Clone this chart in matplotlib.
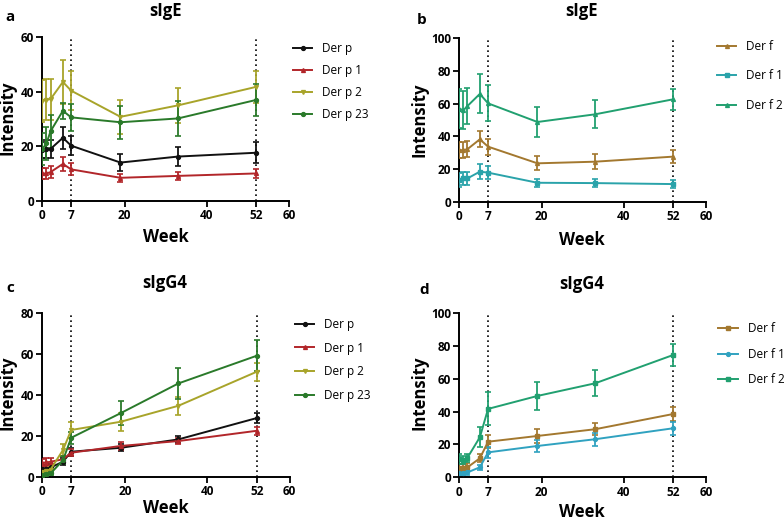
import matplotlib
matplotlib.use("Agg")
import matplotlib.pyplot as plt

plt.rcParams['font.family'] = ['Open Sans', 'DejaVu Sans']

weeks = [0, 1, 2, 5, 7, 19, 33, 52]

# panel a: sIgE, Der p
a_labels = ['Der p', 'Der p 1', 'Der p 2', 'Der p 23']
a_derp = [18.6, 19.0, 19.0, 23.1, 20.2, 14.0, 16.2, 17.6]
a_derp_err = [3.0, 3.2, 3.2, 4.0, 3.5, 3.0, 3.5, 3.8]
a_derp1 = [10.0, 10.0, 10.5, 13.5, 11.5, 8.4, 9.1, 10.0]
a_derp1_err = [2.0, 2.0, 2.2, 2.5, 2.2, 1.5, 1.6, 1.5]
a_derp2 = [36.6, 37.0, 37.3, 43.6, 40.4, 30.8, 35.0, 41.8]
a_derp2_err = [7.6, 7.5, 7.5, 8.0, 7.2, 6.2, 6.4, 5.8]
a_derp23 = [19.0, 21.0, 25.5, 33.0, 30.6, 28.8, 30.2, 37.0]
a_derp23_err = [6.0, 6.0, 6.0, 3.0, 5.0, 6.0, 6.5, 6.0]

# panel b: sIgE, Der f
b_labels = ['Der f', 'Der f 1', 'Der f 2']
b_derf = [31.6, 31.6, 32.2, 38.2, 33.7, 23.5, 24.5, 27.6]
b_derf_err = [5.0, 5.0, 5.0, 5.0, 4.8, 4.3, 4.5, 3.8]
b_derf1 = [13.3, 14.3, 14.3, 18.4, 17.8, 11.6, 11.4, 10.8]
b_derf1_err = [4.0, 4.0, 4.0, 4.5, 4.0, 2.5, 2.5, 2.5]
b_derf2 = [57.0, 56.0, 58.6, 66.0, 60.2, 48.8, 53.5, 62.7]
b_derf2_err = [12.0, 11.5, 11.0, 12.0, 11.0, 9.0, 8.5, 6.5]

# panel c: sIgG4, Der p
c_derp = [4.0, 4.0, 4.5, 7.3, 12.2, 14.1, 18.2, 28.6]
c_derp_err = [1.5, 1.5, 1.5, 1.8, 2.0, 1.8, 1.8, 2.5]
c_derp1 = [6.8, 7.0, 7.3, 8.5, 11.7, 15.0, 17.4, 22.4]
c_derp1_err = [2.0, 2.0, 2.0, 1.8, 1.8, 1.8, 1.5, 2.0]
c_derp2 = [2.5, 3.0, 3.5, 13.0, 22.8, 26.8, 34.6, 51.2]
c_derp2_err = [1.0, 1.0, 1.0, 3.0, 4.0, 4.5, 4.5, 4.5]
c_derp23 = [0.8, 1.1, 1.6, 8.0, 19.0, 31.0, 45.5, 59.0]
c_derp23_err = [0.8, 0.8, 0.8, 2.0, 3.0, 6.0, 7.5, 7.5]

# panel d: sIgG4, Der f
d_derf = [5.5, 5.5, 6.1, 11.6, 21.7, 25.2, 29.3, 38.6]
d_derf_err = [2.5, 2.5, 2.5, 2.5, 4.0, 4.0, 3.5, 4.0]
d_derf1 = [2.8, 2.8, 3.0, 6.1, 15.2, 19.1, 23.2, 29.9]
d_derf1_err = [1.5, 1.5, 1.5, 1.5, 3.5, 3.5, 4.0, 4.0]
d_derf2 = [11.0, 10.6, 12.0, 24.4, 41.7, 49.6, 57.3, 74.6]
d_derf2_err = [3.0, 2.5, 2.5, 6.0, 10.0, 8.5, 8.0, 6.5]

x_ticks = [0, 7, 20, 40, 52, 60]

black = '#111111'
red = '#b2262a'
olive = '#a8a42a'
dgreen = '#2a7a2a'
brown = '#a3782f'
teal = '#2aa3aa'
cyan = '#30a2c0'
green2 = '#21a070'

fig = plt.figure(figsize=(7.84, 5.23), dpi=100)


def panel(rect, series, ymax, ystep):
    ax = fig.add_axes(rect)
    for y, err, col, mk, lab in series:
        ax.errorbar(weeks, y, yerr=err, fmt='none', ecolor=col, elinewidth=1.3,
                    capsize=2.5, capthick=1.2, zorder=3)
        ax.plot(weeks, y, color=col, lw=1.4, marker=mk, ms=2.8, label=lab, zorder=4)
    for xv in (7, 52):
        ax.axvline(xv, color='k', ls=(0, (1, 2)), lw=1.2, zorder=2)
    ax.set_xlim(0, 60)
    ax.set_ylim(0, ymax)
    ax.set_xticks(x_ticks)
    ax.set_yticks(range(0, ymax + 1, ystep))
    for s in ('top', 'right'):
        ax.spines[s].set_visible(False)
    for s in ('left', 'bottom'):
        ax.spines[s].set_linewidth(1.4)
        ax.spines[s].set_clip_on(False)
    ax.tick_params(direction='out', length=4, width=1.3, pad=2, labelsize=8.5)
    for t in ax.get_xticklabels() + ax.get_yticklabels():
        t.set_fontweight('bold')
    return ax


ax_a = panel([0.054, 0.6163, 0.3147, 0.3124],
             [(a_derp, a_derp_err, black, 'o', a_labels[0]),
              (a_derp1, a_derp1_err, red, '^', a_labels[1]),
              (a_derp2, a_derp2_err, olive, 'v', a_labels[2]),
              (a_derp23, a_derp23_err, dgreen, 'o', a_labels[3])], 60, 20)
ax_b = panel([0.5858, 0.6143, 0.315, 0.3124],
             [(b_derf, b_derf_err, brown, '^', b_labels[0]),
              (b_derf1, b_derf1_err, teal, 's', b_labels[1]),
              (b_derf2, b_derf2_err, green2, '^', b_labels[2])], 100, 20)
ax_c = panel([0.054, 0.0885, 0.3155, 0.3136],
             [(c_derp, c_derp_err, black, 'o', a_labels[0]),
              (c_derp1, c_derp1_err, red, '^', a_labels[1]),
              (c_derp2, c_derp2_err, olive, 'v', a_labels[2]),
              (c_derp23, c_derp23_err, dgreen, 'o', a_labels[3])], 80, 20)
ax_d = panel([0.5858, 0.0874, 0.315, 0.3136],
             [(d_derf, d_derf_err, brown, 's', b_labels[0]),
              (d_derf1, d_derf1_err, cyan, 'o', b_labels[1]),
              (d_derf2, d_derf2_err, green2, 's', b_labels[2])], 100, 20)

legend_spots = [(ax_a, 0.3737, 0.919, 0.75), (ax_b, 0.9145, 0.924, 1.4),
                (ax_c, 0.376, 0.392, 0.9), (ax_d, 0.916, 0.3837, 1.05)]
for ax, lx, ly, sp in legend_spots:
    ax.legend(loc='upper left', bbox_to_anchor=(lx, ly), bbox_transform=fig.transFigure,
              frameon=False, borderpad=0, borderaxespad=0, handlelength=1.65,
              handletextpad=0.85, labelspacing=sp, fontsize=8.5)

W, H = 784, 523
def ftext(x, y, s, **kw):
    fig.text(x / W, 1 - y / H, s, ha='center', va='center', fontweight='bold', **kw)

ftext(165, 11, 'sIgE', fontsize=12)
ftext(582, 11, 'sIgE', fontsize=12)
ftext(165, 283, 'sIgG4', fontsize=12)
ftext(582, 284, 'sIgG4', fontsize=12)
ftext(10, 17, 'a', fontsize=11)
ftext(422, 20, 'b', fontsize=11)
ftext(10, 288, 'c', fontsize=11)
ftext(424, 290, 'd', fontsize=11)
ftext(165.7, 237, 'Week', fontsize=12)
ftext(582, 240, 'Week', fontsize=12)
ftext(165.7, 508, 'Week', fontsize=12)
ftext(582, 512, 'Week', fontsize=12)
ftext(8, 118, 'Intensity', fontsize=12, rotation=90)
ftext(419, 120, 'Intensity', fontsize=12, rotation=90)
ftext(8, 393, 'Intensity', fontsize=12, rotation=90)
ftext(419, 393, 'Intensity', fontsize=12, rotation=90)

fig.savefig('out.png', dpi=100)
